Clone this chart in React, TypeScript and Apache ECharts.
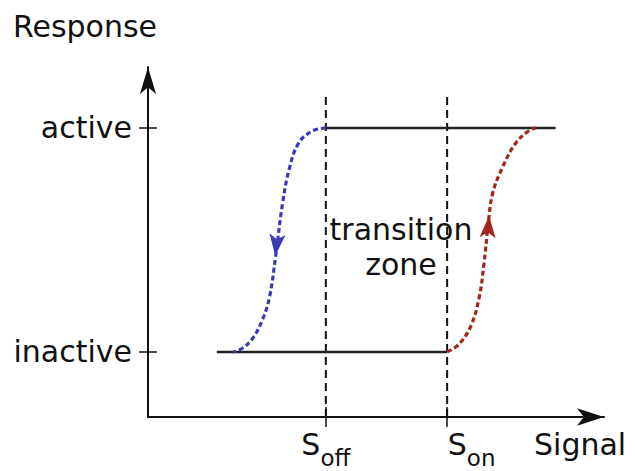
import React, { useEffect, useRef } from 'react';
import * as echarts from 'echarts';

// Response levels (y) and their labels
const levelNames = ['inactive', 'active'];
const levelValues = [1.86, 8.26];

// Signal thresholds (x) and their subscripts
const thresholdNames = ['off', 'on'];
const thresholdValues = [3.9, 6.56];

// Stable branches
const inactiveBranch = [[1.51, 1.86], [6.56, 1.86]];
const activeBranch = [[3.9, 8.26], [8.94, 8.26]];

// Switching-off curve (blue), from active down to inactive
const offCurve = [
  [3.9, 8.26], [3.6, 8.17], [3.3, 7.82], [3.1, 7.1], [2.95, 6.1], [2.8, 4.6],
  [2.66, 3.4], [2.5, 2.75], [2.28, 2.22], [2.05, 1.95], [1.87, 1.86],
];
// Switching-on curve (red), from inactive up to active
const onCurve = [
  [6.56, 1.86], [6.82, 2.08], [7.08, 2.6], [7.26, 3.4], [7.37, 4.4], [7.46, 5.5],
  [7.56, 6.4], [7.78, 7.15], [8.05, 7.8], [8.32, 8.15], [8.5, 8.26],
];
const offArrow = [2.79, 4.6];
const onArrow = [7.48, 5.75];
const dividerTop = 9.26;

const FONT = 'DejaVu Sans';
const INK = '#111';
const BLUE = '#3a3ab5';
const RED = '#a32418';

function idx(arr: number[], v: number) {
  let best = 0;
  for (let i = 0; i < arr.length; i++) if (Math.abs(arr[i] - v) < Math.abs(arr[best] - v)) best = i;
  return best;
}

export default function App() {
  const ref = useRef<HTMLDivElement>(null);
  useEffect(() => {
    if (!ref.current) return;
    const chart = echarts.init(ref.current, null, { renderer: 'svg' });
    const baseX = {
      type: 'value', min: 0, max: 10, position: 'bottom',
      splitLine: { show: false },
    };
    const baseY = {
      type: 'value', min: 0, max: 10, position: 'left',
      splitLine: { show: false },
    };
    chart.setOption({
      animation: false,
      textStyle: { fontFamily: FONT },
      grid: { left: 148, right: 31, top: 67, bottom: 54, containLabel: false, outerBoundsMode: 'none' },
      xAxis: [
        {
          ...baseX,
          axisLine: { show: true, symbol: ['none', 'arrow'], symbolSize: [13, 27], lineStyle: { color: INK, width: 2 } },
          axisTick: { show: true, customValues: thresholdValues, length: 10, lineStyle: { color: INK, width: 1.5 } },
          axisLabel: {
            show: true, customValues: thresholdValues, margin: 12, color: INK,
            formatter: (v: number) => {
              const i = idx(thresholdValues, v);
              return i === 0 ? `{s|S}{sub|${thresholdNames[i]}}` : `{gap| }{s|S}{sub|${thresholdNames[i]}}`;
            },
            rich: {
              s: { fontSize: 30, fontFamily: FONT, color: INK, lineHeight: 34, verticalAlign: 'top' },
              sub: { fontSize: 23, fontFamily: FONT, color: INK, lineHeight: 24, padding: [17, 0, 0, 0], verticalAlign: 'top' },
              gap: { width: 49, fontSize: 30, lineHeight: 34 },
            },
          },
          name: 'Signal', nameLocation: 'end', nameGap: -70,
          nameTextStyle: { fontSize: 30, fontFamily: FONT, color: INK, align: 'left', verticalAlign: 'top', lineHeight: 34, padding: [10, 0, 0, 0] },
        },
        {
          ...baseX,
          axisLine: { show: false },
          axisTick: { show: true, inside: true, customValues: thresholdValues, length: 10, lineStyle: { color: INK, width: 1.5 } },
          axisLabel: { show: false },
        },
      ],
      yAxis: [
        {
          ...baseY,
          axisLine: { show: true, symbol: ['none', 'arrow'], symbolSize: [12, 27], lineStyle: { color: INK, width: 2 } },
          axisTick: { show: true, customValues: levelValues, length: 9, lineStyle: { color: INK, width: 1.5 } },
          axisLabel: {
            show: true, customValues: levelValues, margin: 16, color: INK, fontSize: 30, fontFamily: FONT,
            formatter: (v: number) => levelNames[idx(levelValues, v)],
          },
          name: 'Response', nameLocation: 'end', nameGap: 24,
          nameTextStyle: { fontSize: 30, fontFamily: FONT, color: INK, align: 'center', verticalAlign: 'bottom', lineHeight: 34, padding: [0, 126, 0, 0] },
        },
        {
          ...baseY,
          axisLine: { show: false },
          axisTick: { show: true, inside: true, customValues: levelValues, length: 9, lineStyle: { color: INK, width: 1.5 } },
          axisLabel: { show: false },
        },
      ],
      graphic: [
        {
          type: 'text', x: 401, y: 247, z: 10,
          style: {
            text: 'transition\nzone', fontSize: 30, fontFamily: FONT, fill: INK,
            align: 'center', verticalAlign: 'middle', textAlign: 'center', textVerticalAlign: 'middle', lineHeight: 35,
          },
        },
      ],
      series: [
        {
          type: 'line', data: [[thresholdValues[0], 0], [thresholdValues[0], dividerTop]], symbol: 'none',
          lineStyle: { color: INK, width: 2, type: [8, 5] }, silent: true,
        },
        {
          type: 'line', data: [[thresholdValues[1], 0], [thresholdValues[1], dividerTop]], symbol: 'none',
          lineStyle: { color: INK, width: 2, type: [8, 5] }, silent: true,
        },
        { type: 'line', data: inactiveBranch, symbol: 'none', lineStyle: { color: '#222', width: 2.5 } },
        { type: 'line', data: activeBranch, symbol: 'none', lineStyle: { color: '#222', width: 2.5 } },
        { type: 'line', data: offCurve, symbol: 'none', smooth: 0.4, lineStyle: { color: BLUE, width: 3.2, type: [5, 3] }, z: 3 },
        { type: 'line', data: onCurve, symbol: 'none', smooth: 0.4, lineStyle: { color: RED, width: 3.2, type: [5, 3] }, z: 3 },
        { type: 'scatter', data: [offArrow], symbol: 'arrow', symbolSize: [12, 22], symbolRotate: 174, itemStyle: { color: BLUE, opacity: 1 }, z: 4 },
        { type: 'scatter', data: [onArrow], symbol: 'arrow', symbolSize: [12, 22], symbolRotate: -4, itemStyle: { color: RED, opacity: 1 }, z: 4 },
      ],
    });
    return () => chart.dispose();
  }, []);
  return <div ref={ref} style={{ position: 'fixed', left: 0, top: 0, width: 635, height: 471, background: '#fff' }} />;
}
